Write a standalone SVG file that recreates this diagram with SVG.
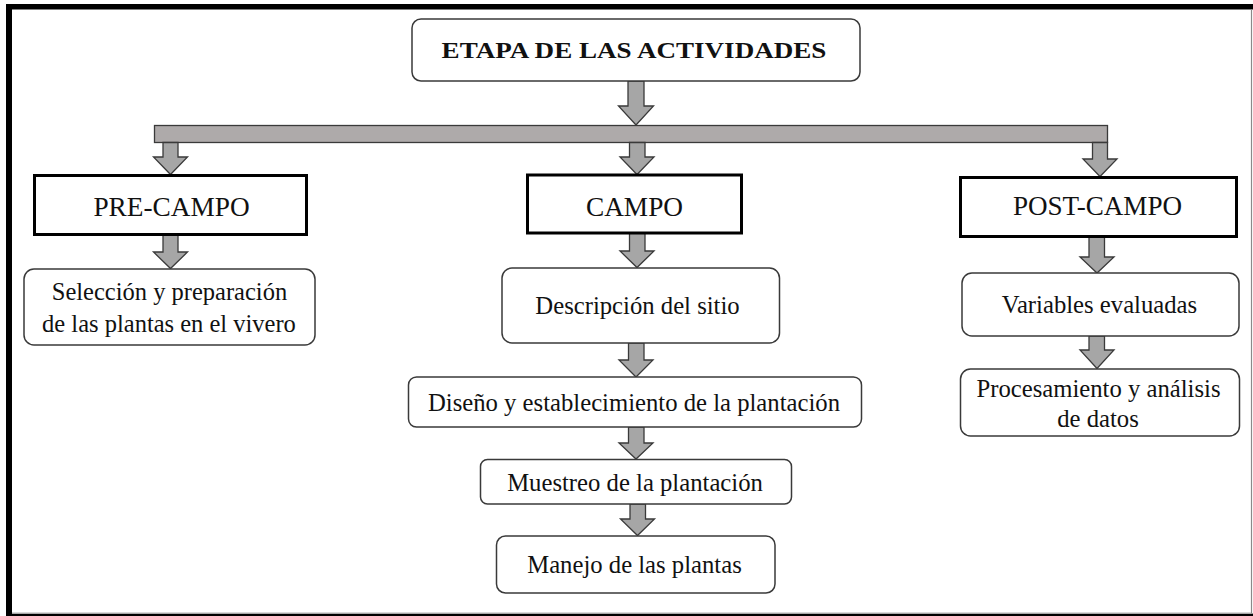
<svg xmlns="http://www.w3.org/2000/svg" width="1253" height="616" viewBox="0 0 1253 616">
<style>
  .frame{fill:#000}
  .rbox{fill:#fff;stroke:#3a3a3a;stroke-width:1.5}
  .sbox{fill:#fff;stroke:#000;stroke-width:3}
  .arrow{fill:#a6a6a6;stroke:#3a3a3a;stroke-width:1.3;stroke-linejoin:miter}
  .bar{fill:#aeaaaa;stroke:#3a3a3a;stroke-width:1.3}
</style>
<rect width="1253" height="616" fill="#fff"/>
<g id="frame">
  <rect class="frame" x="6" y="4" width="1247" height="5.5"/>
  <rect class="frame" x="6" y="4" width="6" height="612"/>
  <rect class="frame" x="6" y="613.6" width="1247" height="2.4"/>
  <line x1="1251.5" y1="9" x2="1251.5" y2="613" stroke="#8a8a8a" stroke-width="1.2"/>
  <line x1="12" y1="612.8" x2="1251" y2="612.8" stroke="#c8c8c8" stroke-width="1"/>
</g>
<g id="connectors">
  <rect class="bar" x="154.5" y="125.5" width="953" height="17"/>
  <path class="arrow" d="M628,81 H644 V106 H653.5 L636,125 L618.5,106 H628 Z"/>
  <path class="arrow" d="M163,142.5 H178 V157 H187.5 L170.5,174.5 L153.5,157 H163 Z"/>
  <path class="arrow" d="M629.5,142.5 H645 V157 H654 L637,174.5 L620,157 H629.5 Z"/>
  <path class="arrow" d="M1092.5,142.5 H1107.5 V159 H1117 L1100,176.5 L1083,159 H1092.5 Z"/>
  <path class="arrow" d="M163,235 H178 V252 H187.5 L170.5,268.5 L153.5,252 H163 Z"/>
  <path class="arrow" d="M629.5,233 H645 V251 H654 L637,267.5 L620,251 H629.5 Z"/>
  <path class="arrow" d="M628.5,343 H644 V360 H653 L636,377 L619,360 H628.5 Z"/>
  <path class="arrow" d="M628.5,427 H644 V443 H653 L636,459 L619,443 H628.5 Z"/>
  <path class="arrow" d="M630,504 H645.5 V519 H654.5 L637.5,535.5 L620.5,519 H630 Z"/>
  <path class="arrow" d="M1089,237 H1104.5 V257 H1114 L1097,273 L1080,257 H1089 Z"/>
  <path class="arrow" d="M1089,336 H1104.5 V350 H1114 L1097,368.5 L1080,350 H1089 Z"/>
</g>
<g font-family="Liberation Serif, serif" fill="#111" text-anchor="middle">
<g id="n-title">
  <rect class="rbox" x="412" y="19" width="448" height="62" rx="9"/>
  <text transform="translate(634,58) scale(1.128,1)" x="0" y="0" font-size="24" font-weight="bold">ETAPA DE LAS ACTIVIDADES</text>
</g>
<g id="n-precampo">
  <rect class="sbox" x="34.5" y="175.5" width="272" height="59"/>
  <text x="171.5" y="216" font-size="27.3">PRE-CAMPO</text>
</g>
<g id="n-campo">
  <rect class="sbox" x="527.5" y="175" width="214" height="58"/>
  <text x="634.5" y="216" font-size="27.3">CAMPO</text>
</g>
<g id="n-postcampo">
  <rect class="sbox" x="960.5" y="177.5" width="276" height="59"/>
  <text x="1097.5" y="215" font-size="27.1">POST-CAMPO</text>
</g>
<g id="n-seleccion">
  <rect class="rbox" x="24" y="269" width="291" height="76" rx="10"/>
  <text x="169.5" y="300" font-size="24.5">Selección y preparación</text>
  <text x="169" y="332" font-size="24.5">de las plantas en el vivero</text>
</g>
<g id="n-descripcion">
  <rect class="rbox" x="502" y="268" width="277.5" height="75" rx="10"/>
  <text x="637.5" y="314" font-size="24.7">Descripción del sitio</text>
</g>
<g id="n-diseno">
  <rect class="rbox" x="408.5" y="377" width="453" height="50" rx="8"/>
  <text x="634" y="411" font-size="24.7">Diseño y establecimiento de la plantación</text>
</g>
<g id="n-muestreo">
  <rect class="rbox" x="480.5" y="459.5" width="311" height="44.5" rx="7"/>
  <text x="635" y="491" font-size="24.7">Muestreo de la plantación</text>
</g>
<g id="n-manejo">
  <rect class="rbox" x="496.5" y="536" width="278.5" height="57" rx="9"/>
  <text x="634.5" y="573" font-size="24.7">Manejo de las plantas</text>
</g>
<g id="n-variables">
  <rect class="rbox" x="962" y="273" width="277" height="63" rx="10"/>
  <text x="1099.5" y="313" font-size="24.7">Variables evaluadas</text>
</g>
<g id="n-procesamiento">
  <rect class="rbox" x="960.5" y="369" width="279" height="67" rx="10"/>
  <text x="1098.5" y="397" font-size="24.7">Procesamiento y análisis</text>
  <text x="1098" y="427" font-size="24.7">de datos</text>
</g>
</g>
</svg>
